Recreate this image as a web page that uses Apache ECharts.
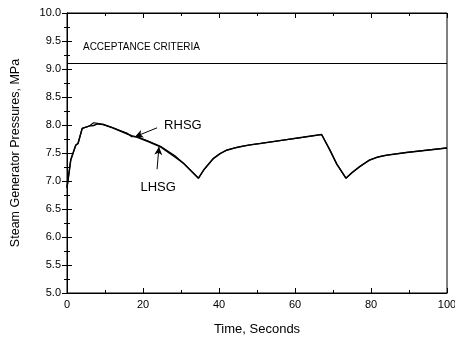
<!DOCTYPE html>
<html>
<head>
<meta charset="utf-8">
<script src="https://cdn.jsdelivr.net/npm/echarts@6/dist/echarts.min.js"></script>
<style>
    html,body{margin:0;padding:0;background:#fff;}
    #main{width:455px;height:338px;}
</style>
</head>
<body>
<div id="main"></div>
<script>
// time, seconds
var time = [0, 1.0, 2.3, 2.9, 4.0, 5.8, 7.0, 8.0, 9.5, 12, 15.9, 17.0, 18.5, 21.5, 24.6, 28.4, 30.6, 34.6, 36, 38.5, 40.3, 42, 44.7, 46.5, 48.2, 50.8, 56.9, 62, 67.0, 69.2, 71, 73.4, 75, 77.1, 79.5, 81.9, 84, 89.4, 100];
// pressures, MPa
var lhsg = [6.88, 7.38, 7.64, 7.67, 7.94, 7.98, 7.99, 8.02, 8.01, 7.95, 7.84, 7.81, 7.78, 7.70, 7.61, 7.43, 7.32, 7.05, 7.20, 7.40, 7.49, 7.55, 7.60, 7.625, 7.645, 7.67, 7.73, 7.78, 7.83, 7.55, 7.30, 7.05, 7.15, 7.26, 7.37, 7.43, 7.46, 7.51, 7.59];
var rhsg = [6.88, 7.38, 7.64, 7.67, 7.94, 7.98, 8.04, 8.03, 8.01, 7.95, 7.85, 7.79, 7.79, 7.71, 7.62, 7.45, 7.32, 7.05, 7.20, 7.40, 7.49, 7.55, 7.60, 7.625, 7.645, 7.67, 7.73, 7.78, 7.83, 7.55, 7.30, 7.05, 7.15, 7.26, 7.37, 7.43, 7.46, 7.51, 7.59];
var limit = 9.1;
var xTicks = [0, 20, 40, 60, 80, 100];

function pairs(xs, ys){
    var out = [];
    for(var i=0; i<xs.length; i++){
        out.push([xs[i], ys[i]]);
    }
    return out;
}

var font = 'Liberation Sans, Arial, sans-serif';

var option = {
    animation: false,
    backgroundColor: '#fff',
    grid: {left: 67, right: 8, top: 13, bottom: 45, containLabel: false, outerBoundsMode: 'none',
        show: true, borderColor: '#000', borderWidth: 1},
    xAxis: [{
        type: 'value', min: 0, max: 100, interval: 20,
        name: 'Time, Seconds', nameLocation: 'middle', nameGap: 30,
        nameTextStyle: {fontFamily: font, fontSize: 13, color: '#000'},
        axisLine: {lineStyle: {color: '#000'}},
        axisTick: {inside: true, length: 5, lineStyle: {color: '#000'}},
        minorTick: {show: true, splitNumber: 2, length: 3, lineStyle: {color: '#000'}},
        axisLabel: {fontFamily: font, fontSize: 11, color: '#000', margin: 6,
            formatter: function(v){ return xTicks.indexOf(v) >= 0 ? String(v) : ''; }},
        splitLine: {show: false}
    }, {
        type: 'value', min: 0, max: 100, interval: 20, position: 'top',
        axisLine: {show: true, lineStyle: {color: '#000'}},
        axisTick: {inside: true, length: 5, lineStyle: {color: '#000'}},
        minorTick: {show: true, splitNumber: 2, length: 3, lineStyle: {color: '#000'}},
        axisLabel: {show: false}, splitLine: {show: false}
    }],
    yAxis: [{
        type: 'value', min: 5, max: 10, interval: 0.5,
        name: 'Steam Generator Pressures, MPa', nameLocation: 'middle', nameGap: 45,
        nameTextStyle: {fontFamily: font, fontSize: 12.5, color: '#000'},
        axisLine: {show: true, lineStyle: {color: '#000'}},
        axisTick: {inside: true, length: 5, lineStyle: {color: '#000'}},
        minorTick: {show: true, splitNumber: 2, length: 3, lineStyle: {color: '#000'}},
        axisLabel: {fontFamily: font, fontSize: 11, color: '#000', margin: 6,
            formatter: function(v){ return v.toFixed(1); }},
        splitLine: {show: false}
    }, {
        type: 'value', min: 5, max: 10, interval: 0.5, position: 'right',
        axisLine: {show: true, lineStyle: {color: '#000'}},
        axisTick: {inside: true, length: 5, lineStyle: {color: '#000'}},
        minorTick: {show: true, splitNumber: 2, length: 3, lineStyle: {color: '#000'}},
        axisLabel: {show: false}, splitLine: {show: false}
    }],
    series: [
        {
            name: 'LHSG', type: 'line', showSymbol: false, data: pairs(time, lhsg),
            lineStyle: {color: '#000', width: 1.5},
            markLine: {
                silent: true, symbol: ['none', 'none'],
                lineStyle: {color: '#000', width: 1, type: 'solid'},
                label: {show: false},
                data: [[{coord: [0, limit]}, {coord: [100, limit]}]]
            },
            markPoint: {
                silent: true, symbol: 'circle', symbolSize: 0,
                label: {show: true, color: '#000', fontFamily: font},
                data: [
                    {coord: [4.2, 9.39], value: 'ACCEPTANCE CRITERIA',
                        label: {position: 'right', distance: 0, fontSize: 10,
                            formatter: 'ACCEPTANCE CRITERIA'}},
                    {coord: [24, 6.89], label: {position: 'inside', fontSize: 13,
                        formatter: 'LHSG'}}
                ]
            }
        },
        {
            name: 'RHSG', type: 'line', showSymbol: false, data: pairs(time, rhsg),
            lineStyle: {color: '#000', width: 1.2},
            markLine: {
                silent: true, symbol: ['none', 'arrow'], symbolSize: [6, 8],
                lineStyle: {color: '#000', width: 1, type: 'solid'},
                label: {show: false},
                data: [
                    [{coord: [23.7, 7.95]}, {coord: [17.9, 7.79]}],
                    [{coord: [23.7, 7.21]}, {coord: [24.2, 7.61]}]
                ]
            },
            markPoint: {
                silent: true, symbol: 'circle', symbolSize: 0,
                label: {show: true, color: '#000', fontFamily: font},
                data: [
                    {coord: [30.5, 8.0], label: {position: 'inside', fontSize: 13,
                        formatter: 'RHSG'}}
                ]
            }
        }
    ]
};

var myChart = echarts.init(document.getElementById('main'));
myChart.setOption(option);
</script>
</body>
</html>
